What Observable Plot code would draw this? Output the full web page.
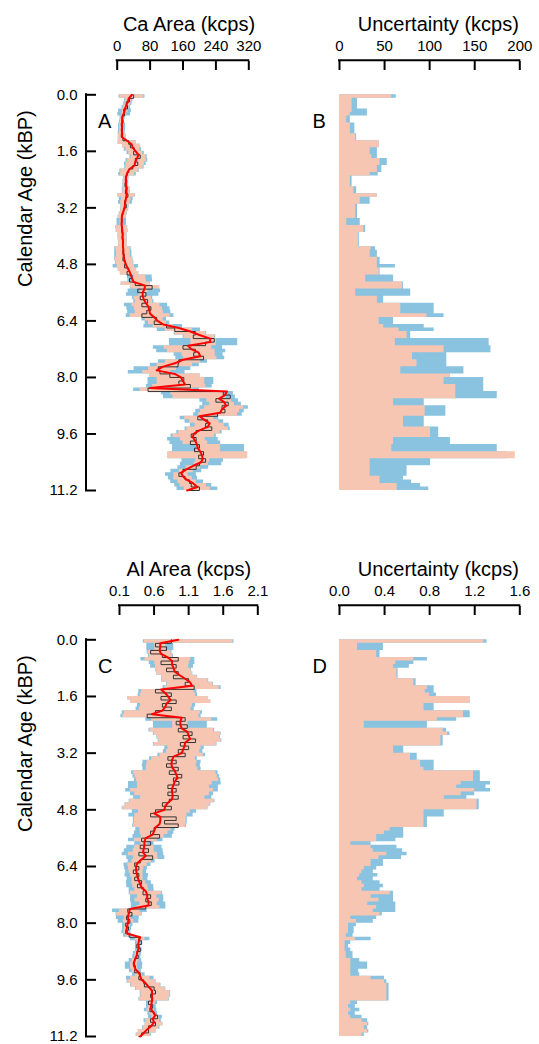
<!DOCTYPE html>
<html><head><meta charset="utf-8">
<script src="https://cdn.jsdelivr.net/npm/d3@7"></script>
<script src="https://cdn.jsdelivr.net/npm/@observablehq/plot@0.6"></script>
<style>
html,body{margin:0;padding:0;background:#fff;overflow:hidden;}
#fig{position:relative;width:539px;height:1044px;overflow:hidden;}
#fig svg{position:absolute;overflow:visible;}
</style></head><body><div id="fig"></div>
<script>
// ---- data ----
const ages = [0.0,0.1,0.2,0.3,0.4,0.5,0.6,0.7,0.8,0.9,1.0,1.1,1.2,1.3,1.4,1.5,1.6,1.7,1.8,1.9,2.0,2.1,2.2,2.3,2.4,2.5,2.6,2.7,2.8,2.9,3.0,3.1,3.2,3.3,3.4,3.5,3.6,3.7,3.8,3.9,4.0,4.1,4.2,4.3,4.4,4.5,4.6,4.7,4.8,4.9,5.0,5.1,5.2,5.3,5.4,5.5,5.6,5.7,5.8,5.9,6.0,6.1,6.2,6.3,6.4,6.5,6.6,6.7,6.8,6.9,7.0,7.1,7.2,7.3,7.4,7.5,7.6,7.7,7.8,7.9,8.0,8.1,8.2,8.3,8.4,8.5,8.6,8.7,8.8,8.9,9.0,9.1,9.2,9.3,9.4,9.5,9.6,9.7,9.8,9.9,10.0,10.1,10.2,10.3,10.4,10.5,10.6,10.7,10.8,10.9,11.0,11.1,11.2];

// Ca: smoothed (red), raw (black), band centre, band widths (= uncertainty, panel B)
const caSmooth = [36,28,26,22,19,17,13,12,12,12, 11,12,12,24,35,38,45,52,48,44, 42,30,25,22,21,21,22,22,23,22, 20,19,18,15,12,11,11,11,12,13, 13,14,14,14,15,15,16,18,21,25, 30,33,36,40,68,66,62,62,65,70, 76,78,80,90,98,112,150,178,200,226, 226,172,180,198,202,160,140,110,96,140, 155,160,165,80,267,262,248,260,265,255, 250,200,212,225,220,200,186,184,190,194, 196,202,206,208,204,185,168,155,160,170, 185,195,170];
const caRaw = [40,30,22,25,16,18,12,14,10,13, 12,10,14,28,32,42,40,56,44,50, 38,28,24,20,23,19,24,20,26,21, 18,22,16,14,11,12,10,12,11,14, 12,15,13,15,14,17,14,20,18,28, 24,36,30,44,85,50,70,56,74,60, 82,72,60,96,90,120,140,190,185,236, 215,160,190,186,210,150,148,100,104,128, 162,150,178,75,258,275,240,270,255,262, 244,196,220,215,230,192,180,192,178,200, 188,210,198,215,200,192,160,150,165,176, 180,200,175];
const caMid = [36,28,26,22,19,17,13,12,12,12, 11,12,12,24,35,38,45,52,48,44, 42,30,25,22,21,21,22,22,23,22, 20,19,18,15,12,11,11,11,12,13, 13,14,14,14,15,15,16,18,21,25, 30,55,56,45,68,66,62,62,65,70, 76,78,80,90,98,112,150,178,200,210, 210,172,180,198,202,160,140,110,96,140, 155,155,151,120,195,200,248,255,260,250, 245,200,212,225,220,200,186,184,190,222, 222,220,220,208,204,185,168,155,160,170, 185,195,170];
const caUncPeach = [58,14,14,14,14,12,8,8,12,12, 12,18,18,44,44,34,34,36,45,45, 42,42,34,12,12,12,16,16,42,23, 23,18,18,18,18,8,8,27,27,21, 21,21,21,35,34,34,42,42,42,44, 44,29,29,70,70,18,18,42,42,68, 68,68,97,44,44,49,66,75,75,62, 62,116,116,81,81,86,86,68,68,123, 116,116,129,129,129,129,60,60,95,95, 95,71,71,71,101,101,101,60,60,58, 58,195,195,34,34,34,34,34,45,45, 64,64,64];
const caUncBlue = [63,20,20,20,31,31,12,12,17,17, 17,19,19,44,44,42,42,42,53,53, 47,47,43,14,14,14,19,19,42,34, 34,20,20,20,20,23,23,29,29,22, 22,22,22,40,42,42,45,45,62,45, 45,60,60,71,71,79,79,49,49,105, 105,105,116,60,60,94,105,79,79,166, 166,168,168,119,119,119,119,138,138,123, 160,160,160,160,175,175,94,94,118,118, 118,94,94,94,110,110,110,123,123,175, 175,186,186,101,101,75,75,75,71,80, 90,99,99];

// Al: smoothed (red), raw (black), band centre, band widths (= uncertainty, panel D)
const alSmooth = [0.95,0.69,0.69,0.68,0.70,0.80,0.86,0.86,0.88,0.90, 0.97,1.05,1.12,1.15,0.70,0.76,0.80,0.84,0.78,0.76, 0.72,0.57,1.00,0.98,0.98,1.00,1.08,1.10,1.12,1.05, 1.04,1.02,1.00,0.88,0.86,0.85,0.86,0.90,0.92,0.94, 0.90,0.88,0.86,0.86,0.87,0.86,0.80,0.76,0.75,0.60, 0.69,0.69,0.68,0.62,0.60,0.58,0.48,0.46,0.46,0.45, 0.44,0.48,0.42,0.36,0.34,0.34,0.35,0.36,0.38,0.40, 0.42,0.48,0.50,0.50,0.52,0.52,0.25,0.24,0.22,0.23, 0.22,0.21,0.20,0.22,0.40,0.38,0.37,0.38,0.36,0.35, 0.33,0.31,0.31,0.33,0.38,0.40,0.42,0.48,0.52,0.57, 0.57,0.57,0.57,0.56,0.55,0.58,0.62,0.58,0.60,0.56, 0.50,0.45,0.40];
const alRaw = [0.85,0.62,0.78,0.55,0.72,0.95,0.70,0.92,0.78,0.95, 0.88,1.10,1.05,1.18,0.62,0.85,0.70,0.92,0.72,0.85, 0.62,0.50,1.05,0.92,1.08,0.95,1.15,1.02,1.20,0.98, 1.10,0.95,1.05,0.80,0.92,0.78,0.95,0.82,1.00,0.88, 0.96,0.80,0.92,0.80,0.95,0.82,0.72,0.85,0.62,0.55, 0.92,0.75,0.95,0.60,0.55,0.68,0.42,0.55,0.40,0.52, 0.38,0.58,0.40,0.32,0.38,0.30,0.38,0.32,0.42,0.36, 0.45,0.44,0.55,0.48,0.56,0.48,0.22,0.28,0.20,0.25, 0.19,0.23,0.19,0.24,0.38,0.42,0.35,0.40,0.35,0.37, 0.32,0.30,0.33,0.32,0.40,0.38,0.45,0.46,0.60,0.62, 0.55,0.58,0.52,0.58,0.54,0.60,0.65,0.55,0.62,0.52, 0.52,0.42,0.38];
const alMid = [1.10,0.69,0.69,0.68,0.70,0.80,0.86,0.86,0.88,0.90, 0.97,1.05,1.12,1.15,0.80,0.80,0.80,0.84,0.78,0.76, 0.72,0.70,1.00,0.98,0.98,1.00,1.08,1.10,1.12,1.05, 1.04,1.02,1.00,0.88,0.86,0.85,0.86,0.90,0.92,0.94, 0.90,0.88,0.86,0.86,0.87,0.86,0.80,0.76,0.75,0.70, 0.69,0.69,0.68,0.62,0.60,0.58,0.48,0.46,0.46,0.45, 0.44,0.48,0.42,0.36,0.34,0.34,0.35,0.36,0.38,0.40, 0.42,0.48,0.50,0.50,0.52,0.52,0.25,0.24,0.22,0.23, 0.22,0.21,0.20,0.22,0.40,0.38,0.37,0.38,0.36,0.35, 0.33,0.31,0.31,0.33,0.38,0.40,0.42,0.48,0.55,0.62, 0.62,0.60,0.57,0.56,0.55,0.58,0.62,0.58,0.60,0.56, 0.50,0.45,0.40];
const alUncPeach = [1.28,0.16,0.16,0.33,0.33,0.66,0.50,0.48,0.51,0.51, 0.51,0.66,0.66,0.78,0.76,0.80,1.16,1.16,0.75,0.75, 1.10,1.10,0.87,0.22,0.22,0.92,0.96,0.90,0.90,0.90, 0.48,0.48,0.63,0.63,0.72,0.72,0.75,1.19,1.19,1.19, 1.08,1.04,1.20,1.08,0.93,1.22,1.22,1.22,0.75,0.75, 0.75,0.75,0.75,0.45,0.40,0.33,0.33,0.10,0.28,0.30, 0.42,0.35,0.28,0.28,0.22,0.20,0.18,0.16,0.20,0.22, 0.20,0.45,0.28,0.35,0.25,0.33,0.30,0.36,0.10,0.15, 0.08,0.08,0.08,0.06,0.14,0.05,0.05,0.05,0.06,0.06, 0.10,0.10,0.10,0.10,0.10,0.28,0.40,0.42,0.42,0.42, 0.42,0.42,0.10,0.08,0.10,0.08,0.10,0.20,0.25,0.22, 0.25,0.20,0.05];
const alUncBlue = [1.31,0.39,0.39,0.36,0.36,0.78,0.66,0.62,0.52,0.52, 0.52,0.68,0.68,0.84,0.84,0.86,1.16,1.16,0.84,0.84, 1.16,1.16,1.04,0.78,0.78,0.95,0.98,0.92,0.92,0.92, 0.57,0.57,0.69,0.69,0.84,0.84,0.84,1.25,1.25,1.25, 1.34,1.30,1.34,1.20,1.13,1.24,1.24,1.24,0.93,0.93, 0.78,0.78,0.78,0.57,0.57,0.57,0.50,0.28,0.51,0.56, 0.60,0.55,0.39,0.39,0.33,0.30,0.34,0.30,0.36,0.39, 0.36,0.48,0.48,0.48,0.50,0.50,0.50,0.38,0.33,0.30, 0.15,0.13,0.13,0.12,0.28,0.10,0.08,0.10,0.12,0.12, 0.18,0.25,0.25,0.17,0.18,0.40,0.42,0.44,0.44,0.44, 0.44,0.44,0.16,0.14,0.18,0.14,0.20,0.25,0.26,0.25, 0.26,0.22,0.20];

const ageTicks = [0.0,1.6,3.2,4.8,6.4,8.0,9.6,11.2];
const caTicks = [0,80,160,240,320];
const caUncTicks = [0,50,100,150,200];
const alTicks = [0.1,0.6,1.1,1.6,2.1];
const alUncTicks = [0.0,0.4,0.8,1.2,1.6];

const titles = {A:"Ca Area (kcps)", B:"Uncertainty (kcps)", C:"Al Area (kcps)", D:"Uncertainty (kcps)"};
const yTitle = "Calendar Age (kBP)";

// ---- styling ----
const BLUE = "#89c3e0", PEACH = "#f6c6b3", RED = "#ff0000", RAW = "#333333";
const FONT = "'Liberation Sans', Arial, Helvetica, sans-serif";
const fmt1 = d => d.toFixed(1);

function rows(smooth, raw, mid, ub, up) {
  return ages.map((a, i) => ({age: a, smooth: smooth[i], raw: raw[i], mid: mid[i], ub: ub[i], up: up[i]}));
}

const common = {
  width: 270, height: 505, marginTop: 69, marginBottom: 6, marginRight: 10,
  style: {fontFamily: FONT, fontSize: "15px", color: "#000", background: "transparent", overflow: "visible"}
};

function valuePanel({data, ticks, fmt, title, letter, xr, yr, titleX}) {
  const ML = 96;
  return Plot.plot({
    ...common, marginLeft: ML,
    x: {domain: [ticks[0], ticks[ticks.length - 1]], range: xr},
    y: {domain: [ageTicks[0], ageTicks[ageTicks.length - 1]], range: yr},
    marks: [
      Plot.areaX(data, {y: "age", x1: d => d.mid - d.ub / 2, x2: d => d.mid + d.ub / 2, fill: BLUE, curve: "step-before"}),
      Plot.areaX(data, {y: "age", x1: d => d.mid - d.up / 2, x2: d => d.mid + d.up / 2, fill: PEACH, curve: "step-before"}),
      Plot.lineX(data, {y: "age", x: "raw", stroke: RAW, strokeWidth: 1, curve: "step-before"}),
      Plot.lineX(data, {y: "age", x: "smooth", stroke: RED, strokeWidth: 2}),
      Plot.axisX({anchor: "top", ticks, tickFormat: fmt, tickSize: 9, tickPadding: 10, strokeWidth: 2, fontSize: 15, label: null}),
      Plot.ruleY([ageTicks[0]], {x1: ticks[0], x2: ticks[ticks.length - 1], dy: -(yr[0] - 59.8), strokeWidth: 2, strokeLinecap: "square"}),
      Plot.axisY({anchor: "left", ticks: ageTicks, tickFormat: fmt1, tickSize: 11, tickPadding: 8, strokeWidth: 2, fontSize: 15, label: null}),
      Plot.ruleX([ticks[0]], {y1: ageTicks[0], y2: ageTicks[ageTicks.length - 1], dx: 85.5 - xr[0], strokeWidth: 2, strokeLinecap: "square"}),
      Plot.text([title], {frameAnchor: "top-left", dx: titleX - ML, dy: 16.5 - 69, fontSize: 20, textAnchor: "middle"}),
      Plot.text([letter], {frameAnchor: "top-left", dx: 1.5, dy: 44.5, fontSize: 20, textAnchor: "start"}),
      Plot.text([yTitle], {frameAnchor: "left", rotate: -90, dx: 24.6 - ML, dy: 2.5, fontSize: 20})
    ]
  });
}

function uncPanel({data, ticks, fmt, title, letter, yr, titleX}) {
  const ML = 40;
  return Plot.plot({
    ...common, width: 269, marginLeft: ML,
    x: {domain: [ticks[0], ticks[ticks.length - 1]], range: [69, 249.3]},
    y: {domain: [ageTicks[0], ageTicks[ageTicks.length - 1]], range: yr, axis: null},
    marks: [
      Plot.areaX(data, {y: "age", x: "ub", fill: BLUE, curve: "step-before"}),
      Plot.areaX(data, {y: "age", x: "up", fill: PEACH, curve: "step-before"}),
      Plot.axisX({anchor: "top", ticks, tickFormat: fmt, tickSize: 9, tickPadding: 10, strokeWidth: 2, fontSize: 15, label: null}),
      Plot.ruleY([ageTicks[0]], {x1: ticks[0], x2: ticks[ticks.length - 1], dy: -(yr[0] - 59.8), strokeWidth: 2, strokeLinecap: "square"}),
      Plot.text([title], {frameAnchor: "top-left", dx: titleX - ML, dy: 16.5 - 69, fontSize: 20, textAnchor: "middle"}),
      Plot.text([letter], {frameAnchor: "top-left", dx: 2, dy: 44.5, fontSize: 20, textAnchor: "start"})
    ]
  });
}

const caData = rows(caSmooth, caRaw, caMid, caUncBlue, caUncPeach);
const alData = rows(alSmooth, alRaw, alMid, alUncBlue, alUncPeach);

const fig = document.getElementById("fig");
const place = (svg, left, top) => { svg.style.left = left + "px"; svg.style.top = top + "px"; fig.appendChild(svg); };

place(valuePanel({data: caData, ticks: caTicks, fmt: d => String(d), title: titles.A, letter: "A", xr: [116.7, 248.3], yr: [94.3, 490], titleX: 188.5}), 0, 0);
place(uncPanel({data: caData, ticks: caUncTicks, fmt: d => String(d), title: titles.B, letter: "B", yr: [94.3, 490], titleX: 167.8}), 270, 0);
place(valuePanel({data: alData, ticks: alTicks, fmt: fmt1, title: titles.C, letter: "C", xr: [119, 257.3], yr: [94.3, 491], titleX: 188.3}), 0, 545);
place(uncPanel({data: alData, ticks: alUncTicks, fmt: fmt1, title: titles.D, letter: "D", yr: [94.3, 491], titleX: 167.8}), 270, 545);
</script></body></html>
